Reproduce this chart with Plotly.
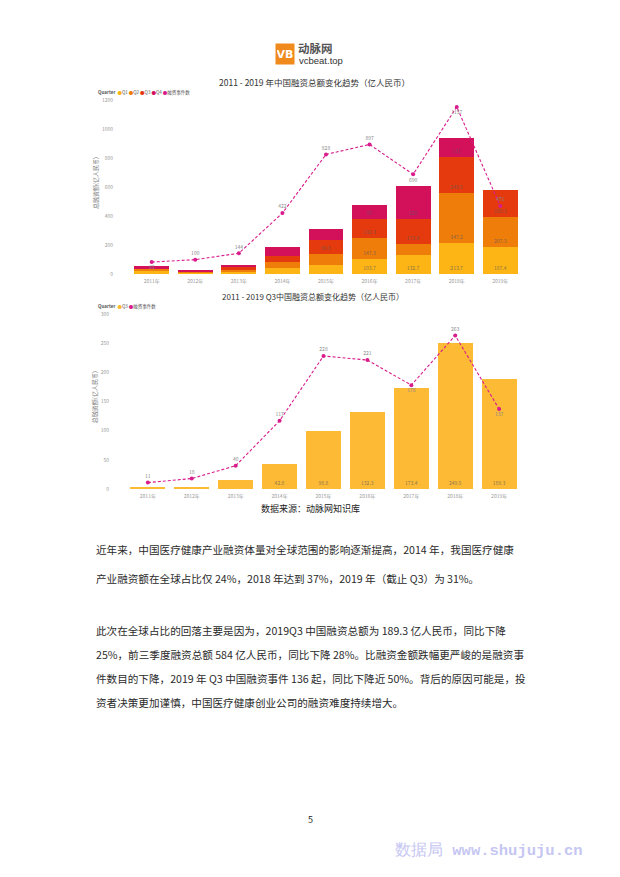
import plotly.graph_objects as go

# page offset compensation (browser body margin)
OX, OY = 8, 8
W, H = 612, 869

# ---------------- data ----------------
years = ["2011年", "2012年", "2013年", "2014年", "2015年", "2016年", "2017年", "2018年", "2019年"]
q1 = [22, 8, 14, 39, 65.2, 103.7, 132.7, 213.7, 187.4]
q2 = [16, 8, 17, 43, 71.6, 147.3, 73.5, 347.2, 207.3]
q3 = [2.8, 3.6, 15.5, 42.8, 98.8, 132.3, 173.4, 249.5, 189.3]
q4 = [13, 9, 16, 64, 74, 97, 228, 131, None]
events_total = [83, 100, 144, 422, 828, 897, 690, 1157, 471]
events_q3 = [11, 18, 40, 117, 228, 221, 178, 263, 137]
pos_total = ["bottom center"] + ["top center"] * 5 + ["bottom center", "bottom center", "top center"]
pos_q3 = ["top center"] * 6 + ["bottom center", "top center", "bottom center"]
ticks1 = [0, 200, 400, 600, 800, 1000, 1200]
ticks2 = [0, 50, 100, 150, 200, 250, 300]

C_Q1, C_Q2, C_Q3, C_Q4 = "#FDB515", "#EF7D0A", "#E53A0E", "#D3105A"
C_Q3B = "#FDBA35"
C_LINE = "#D81C8C"
FONT = "Noto Sans CJK SC"


def px(x):
    return (x - OX) / W


def py(y):
    return 1 - (y - OY) / H


def fmt(v):
    return "" if v is None else (f"{v:g}")


fig = go.Figure()

lbl_font = dict(size=5, color="rgba(90,90,90,0.75)", family=FONT)
for name, vals, col in [("Q1", q1, C_Q1), ("Q2", q2, C_Q2), ("Q3", q3, C_Q3), ("Q4", q4, C_Q4)]:
    fig.add_trace(go.Bar(
        x=years, y=vals, name=name, marker=dict(color=col, line=dict(width=0)),
        text=[fmt(v) for v in vals], textposition="inside", insidetextanchor="start",
        textfont=lbl_font, xaxis="x", yaxis="y", showlegend=False, hoverinfo="skip"))

fig.add_trace(go.Scatter(
    x=years, y=events_total, mode="lines+markers+text", name="融资事件数",
    line=dict(color=C_LINE, width=1.1, dash="3px,2px"), marker=dict(color=C_LINE, size=4),
    text=[str(v) for v in events_total], textposition=pos_total,
    textfont=dict(size=5, color="#888", family=FONT), xaxis="x", yaxis="y", showlegend=False))

fig.add_trace(go.Bar(
    x=years, y=q3, name="Q3", marker=dict(color=C_Q3B, line=dict(width=0)),
    text=[fmt(v) for v in q3], textposition="inside", insidetextanchor="start",
    textfont=lbl_font, xaxis="x2", yaxis="y2", showlegend=False))

fig.add_trace(go.Scatter(
    x=years, y=events_q3, mode="lines+markers+text", name="融资事件数",
    line=dict(color=C_LINE, width=1.1, dash="3px,2px"), marker=dict(color=C_LINE, size=4),
    text=[str(v) for v in events_q3], textposition=pos_q3,
    textfont=dict(size=5, color="#888", family=FONT), xaxis="x2", yaxis="y2", showlegend=False))

tick_font = dict(size=5, color="#999", family=FONT)
common_x = dict(showgrid=False, showline=False, zeroline=False, tickfont=tick_font,
                ticks="outside", ticklen=2, tickcolor="rgba(0,0,0,0)", fixedrange=True)
common_y = dict(showgrid=False, showline=False, zeroline=False, tickfont=tick_font,
                ticks="outside", ticklen=14, tickcolor="rgba(0,0,0,0)",
                title=dict(text="总融资额(亿人民币)", font=dict(size=6, color="#777", family=FONT), standoff=2))

# chart 1: 0 at y=275px, 1200 at y=101px ; extend range a bit above top tick
k1 = (275 - 101) / 1200
top1 = 1260
k2 = (490.7 - 315) / 300
top2 = 315

fig.update_layout(
    width=W, height=H, margin=dict(l=0, r=0, t=0, b=0),
    paper_bgcolor="white", plot_bgcolor="white",
    barmode="stack", bargap=0.2,
    uniformtext=dict(minsize=5, mode="hide"),
    xaxis=dict(domain=[px(129), px(523)], anchor="y", **common_x),
    yaxis=dict(domain=[py(275), py(275 - k1 * top1)], range=[0, top1], tickvals=ticks1,
               anchor="x", **common_y),
    xaxis2=dict(domain=[px(125), px(522)], anchor="y2", **common_x),
    yaxis2=dict(domain=[py(490.7), py(490.7 - k2 * top2)], range=[0, top2], tickvals=ticks2,
                anchor="x2", **common_y),
    font=dict(family=FONT),
)

ann = []


def text(x, y, s, size, color="#222", xanchor="left", **kw):
    ann.append(dict(x=px(x), y=py(y), xref="paper", yref="paper", text=s, showarrow=False,
                    xanchor=xanchor, yanchor="middle", font=dict(size=size, color=color, family=kw.pop("family", FONT)), **kw))


# logo
text(285, 54, "<b>VB</b>", 11, color="white", xanchor="center", bgcolor="#F08A1C",
     width=16, height=18, borderpad=1, family="DejaVu Sans")
text(296, 48, "<b>动脉网</b>", 11.5, color="#555")
text(297, 61, "vcbeat.top", 9.5, color="#333", family="Liberation Sans")

# titles
text(314, 82.5, "2011 - 2019 年中国融资总额变化趋势（亿人民币）", 8.5, color="#333", xanchor="center")
text(313, 297.5, "2011 - 2019 Q3中国融资总额变化趋势（亿人民币）", 8, color="#333", xanchor="center")


def dot(c):
    return f"<span style='color:{c}'>●</span>"


text(96, 93, f"<b>Quarter</b>  {dot(C_Q1)}Q1 {dot(C_Q2)}Q2 {dot(C_Q3)}Q3 {dot(C_Q4)}Q4 {dot(C_LINE)}融资事件数",
     4.5, color="#555")
text(96, 308, f"<b>Quarter</b>  {dot(C_Q3B)}Q3 {dot(C_LINE)}融资事件数", 4.5, color="#555")

# source
text(310, 510, "数据来源：动脉网知识库", 9, color="#222", xanchor="center")

# paragraphs
para = [
    (551.5, "近年来，中国医疗健康产业融资体量对全球范围的影响逐渐提高，2014 年，我国医疗健康"),
    (580.5, "产业融资额在全球占比仅 24%，2018 年达到 37%，2019 年（截止 Q3）为 31%。"),
    (632.5, "此次在全球占比的回落主要是因为，2019Q3 中国融资总额为 189.3 亿人民币，同比下降"),
    (656.5, "25%，前三季度融资总额 584 亿人民币，同比下降 28%。比融资金额跌幅更严峻的是融资事"),
    (681, "件数目的下降，2019 年 Q3 中国融资事件 136 起，同比下降近 50%。背后的原因可能是，投"),
    (705, "资者决策更加谨慎，中国医疗健康创业公司的融资难度持续增大。"),
]
for y, s in para:
    text(94, y, s, 10.6, color="#2a2a2a")

# page number
text(310, 822, "5", 9, color="#222", xanchor="center")

# watermark
text(393, 854, "数据局 <b>www.shujuju.cn</b>", 15.5, color="#C6C6F2", family="Liberation Mono")

fig.update_layout(annotations=ann)
fig.write_html("out.html")
